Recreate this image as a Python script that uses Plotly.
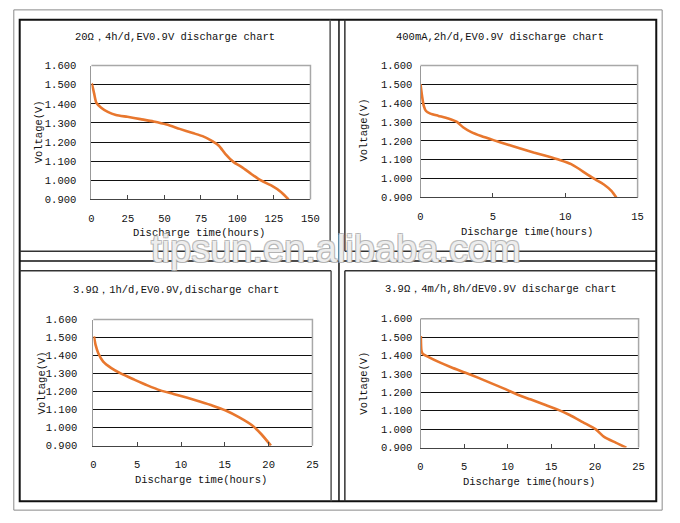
import plotly.graph_objects as go

W, H = 680, 523

# ---------------- data ----------------
titles = [
    "20Ω，4h/d,EV0.9V discharge chart",
    "400mA,2h/d,EV0.9V discharge chart",
    "3.9Ω，1h/d,EV0.9V,discharge chart",
    "3.9Ω，4m/h,8h/dEV0.9V discharge chart",
]

t1 = [0, 0.4, 1.8, 3.4, 6.7, 11.2, 16.8, 24.6, 33.6, 42.5, 51.5, 60.4, 69.4, 76.1,
      82.8, 87.3, 91.8, 97.4, 103.0, 109.7, 116.4, 123.1, 129.8, 135.0]
v1 = [1.505, 1.502, 1.456, 1.405, 1.380, 1.358, 1.342, 1.332, 1.320, 1.308, 1.292,
      1.269, 1.247, 1.231, 1.205, 1.181, 1.137, 1.095, 1.069, 1.032, 0.998, 0.973,
      0.939, 0.900]

t2 = [0, 0.11, 0.23, 0.38, 0.68, 1.24, 1.92, 2.49, 2.94, 3.51, 4.19, 5.09, 6.0,
      6.9, 7.81, 8.71, 9.62, 10.41, 10.97, 11.54, 12.1, 12.67, 13.19, 13.53]
v2 = [1.501, 1.437, 1.385, 1.359, 1.345, 1.333, 1.319, 1.302, 1.273, 1.247, 1.226,
      1.203, 1.181, 1.160, 1.139, 1.120, 1.099, 1.077, 1.051, 1.021, 0.995, 0.969,
      0.935, 0.900]

t3 = [0.07, 0.26, 0.56, 1.12, 2.05, 3.17, 4.66, 6.16, 7.65, 9.14, 10.63, 12.13,
      13.62, 15.11, 16.6, 18.1, 19.2, 20.26]
v3 = [1.507, 1.458, 1.413, 1.367, 1.331, 1.300, 1.267, 1.235, 1.207, 1.187, 1.167,
      1.145, 1.122, 1.095, 1.058, 1.013, 0.962, 0.900]

t4 = [0.04, 0.11, 0.26, 0.94, 2.07, 3.57, 5.08, 6.58, 8.08, 9.59, 11.09, 12.59,
      14.1, 15.6, 17.1, 18.6, 20.1, 21.05, 22.37, 23.6]
v4 = [1.506, 1.427, 1.409, 1.391, 1.365, 1.335, 1.308, 1.280, 1.250, 1.220, 1.188,
      1.162, 1.135, 1.109, 1.077, 1.038, 0.999, 0.958, 0.927, 0.900]

x_ranges = [[0, 150], [0, 15], [0, 25], [0, 25]]
x_dticks = [25, 5, 5, 5]
y_range = [0.9, 1.6]
y_dtick = 0.1

x_title = "Discharge time(hours)"
y_title = "Voltage(V)"
watermark = "tipsun.en.alibaba.com"

series = [(t1, v1), (t2, v2), (t3, v3), (t4, v4)]

# ---------------- layout helpers (pixel -> paper) ----------------
def px(x):
    return x / W

def py(y):
    return 1 - y / H

# plot areas in pixels: (left, right, top, bottom)
areas = [(90, 313, 62, 199), (425, 646, 62, 197), (92, 315, 322, 451), (425, 647, 321, 453)]
title_pos = [(175, 33), (506, 33), (176, 292), (507, 291)]
xtitle_pos = [(200, 233), (533, 232), (202, 486), (535, 488)]
ytitle_pos = [(37, 130), (368, 128), (40, 387), (368, 387)]
ystandoff = [12, 5, 13, 5]

FONT = "Liberation Mono, DejaVu Sans Mono, monospace"
TXT = "#111"
ORANGE = "#E8772E"

fig = go.Figure()
layout = dict(
    width=W, height=H, margin=dict(l=0, r=0, t=0, b=0),
    paper_bgcolor="white", plot_bgcolor="white", showlegend=False,
    font=dict(family=FONT, size=10.5, color=TXT),
)
shapes = []
annotations = []

for i, ((t, v), (l, r, top, bot)) in enumerate(zip(series, areas)):
    n = "" if i == 0 else str(i + 1)
    xa, ya = "x" + n, "y" + n
    fig.add_trace(go.Scatter(x=t, y=v, mode="lines", xaxis=xa, yaxis=ya,
                             line=dict(color=ORANGE, width=2.6, shape="spline", smoothing=0.6),
                             hoverinfo="skip"))
    layout["xaxis" + n] = dict(
        domain=[px(l), px(r)], anchor=ya, range=x_ranges[i], dtick=x_dticks[i], tick0=0,
        showgrid=False, zeroline=False, showline=True, linecolor="#444", linewidth=1,
        ticks="inside", ticklen=4, tickcolor="#444", ticklabelstandoff=9,
        tickfont=dict(family=FONT, size=10.5, color=TXT), fixedrange=True,
    )
    layout["yaxis" + n] = dict(
        domain=[py(bot), py(top)], anchor=xa, range=y_range, dtick=y_dtick, tick0=0.9,
        tickformat=".3f", showgrid=True, gridcolor="#111", gridwidth=1,
        zeroline=False, showline=True, linecolor="#999", linewidth=1, ticks="",
        ticklabelstandoff=ystandoff[i],
        tickfont=dict(family=FONT, size=10.5, color=TXT), fixedrange=True,
    )
    # gray frame on top and right of plot area
    shapes.append(dict(type="path", xref=xa + " domain", yref=ya + " domain",
                       path="M 0 1 L 1 1 L 1 0", line=dict(color="#a8a8a8", width=1.5),
                       layer="above"))
    annotations.append(dict(text=titles[i], x=px(title_pos[i][0]), y=py(title_pos[i][1]),
                            xref="paper", yref="paper", showarrow=False,
                            xanchor="center", yanchor="middle",
                            font=dict(family=FONT, size=10.5, color=TXT)))
    annotations.append(dict(text=x_title, x=px(xtitle_pos[i][0]), y=py(xtitle_pos[i][1]),
                            xref="paper", yref="paper", showarrow=False,
                            xanchor="center", yanchor="middle",
                            font=dict(family=FONT, size=10.5, color=TXT)))
    annotations.append(dict(text=y_title, x=px(ytitle_pos[i][0]), y=py(ytitle_pos[i][1]),
                            xref="paper", yref="paper", showarrow=False, textangle=-90,
                            xanchor="center", yanchor="middle",
                            font=dict(family=FONT, size=10.5, color=TXT)))

# frames (pixel boxes)
def rect(x0, y0, x1, y1, color, width):
    return dict(type="rect", xref="paper", yref="paper", x0=px(x0), x1=px(x1),
                y0=py(y1), y1=py(y0), line=dict(color=color, width=width),
                fillcolor="rgba(0,0,0,0)", layer="below")

def line(x0, y0, x1, y1, color, width):
    return dict(type="line", xref="paper", yref="paper", x0=px(x0), x1=px(x1),
                y0=py(y0), y1=py(y1), line=dict(color=color, width=width), layer="below")

shapes.append(rect(11, 5, 671, 517, "#8a8a8a", 1))
shapes.append(rect(17, 15, 665, 508, "#111", 2))
shapes.append(line(342, 15, 342, 508, "#111", 1.5))
shapes.append(line(17, 262, 665, 262, "#111", 1.5))
# inner chart borders
shapes.append(line(333, 15, 333, 252, "#555", 1.5))
shapes.append(line(17, 252, 333, 252, "#333", 1.5))
shapes.append(line(348, 15, 348, 252, "#333", 1.5))
shapes.append(line(348, 252, 665, 252, "#333", 1.5))
shapes.append(line(17, 272, 334, 272, "#333", 1.5))
shapes.append(line(334, 272, 334, 508, "#555", 1.5))
shapes.append(line(348, 272, 665, 272, "#333", 1.5))
shapes.append(line(348, 272, 348, 508, "#333", 1.5))

# watermark
annotations.append(dict(
    text=watermark, x=px(339), y=py(250), xref="paper", yref="paper", showarrow=False,
    xanchor="center", yanchor="middle",
    font=dict(family="Liberation Sans, Arial, sans-serif", size=38,
              color="rgba(255,255,255,0.8)",
              shadow="1px 1px 0 #b0b0b0, -1px -1px 0 #b0b0b0, 1px -1px 0 #b0b0b0, -1px 1px 0 #b0b0b0"),
))

layout["shapes"] = shapes
layout["annotations"] = annotations
fig.update_layout(**layout)
fig.write_html("out.html", config={"displayModeBar": False, "staticPlot": True},
               post_script="document.body.style.margin='0';document.body.style.overflow='hidden';")
